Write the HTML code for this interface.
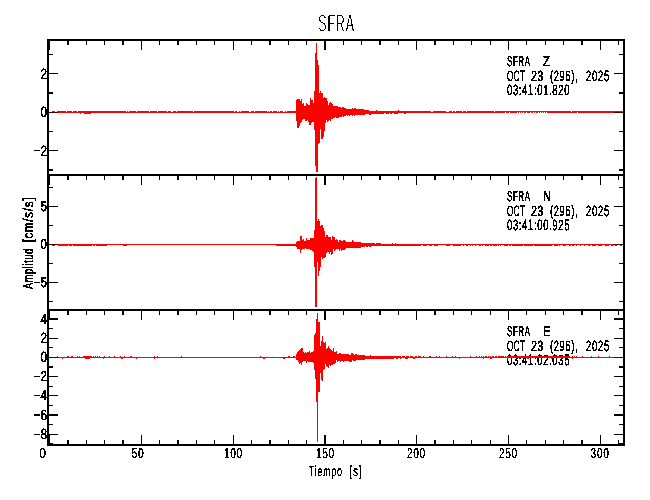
<!DOCTYPE html>
<html><head><meta charset="utf-8"><title>SFRA</title>
<style>html,body{margin:0;padding:0;background:#fff;}svg{display:block;}text{font-family:"Liberation Sans",sans-serif;}</style>
</head><body>
<svg width="650" height="500" viewBox="0 0 650 500" shape-rendering="crispEdges" text-rendering="geometricPrecision"><rect x="0" y="0" width="650" height="500" fill="#fff"/><defs><filter id="bw" x="0" y="0" width="650" height="500" filterUnits="userSpaceOnUse" color-interpolation-filters="sRGB"><feComponentTransfer><feFuncR type="discrete" tableValues="0"/><feFuncG type="discrete" tableValues="0"/><feFuncB type="discrete" tableValues="0"/><feFuncA type="discrete" tableValues="0 0 1 1"/></feComponentTransfer></filter><filter id="bw2" x="0" y="0" width="650" height="500" filterUnits="userSpaceOnUse" color-interpolation-filters="sRGB"><feComponentTransfer result="t"><feFuncR type="discrete" tableValues="0"/><feFuncG type="discrete" tableValues="0"/><feFuncB type="discrete" tableValues="0"/><feFuncA type="discrete" tableValues="0 0 1 1"/></feComponentTransfer><feOffset in="t" dy="1" result="o"/><feComposite in="t" in2="o" operator="in"/></filter></defs><g shape-rendering="auto" filter="url(#bw)"><text transform="translate(507,66) scale(0.5555,1)" font-family="Liberation Sans, sans-serif" font-size="14.4" font-weight="normal" textLength="41.40" lengthAdjust="spacing"  fill="#000" stroke="#000" stroke-width="0.5">SFRA</text><text transform="translate(543,66) scale(0.7800,1)" font-family="Liberation Sans, sans-serif" font-size="14.4" font-weight="normal"  fill="#000" stroke="#000" stroke-width="0.5">Z</text><text transform="translate(507,81) scale(0.5415,1)" font-family="Liberation Sans, sans-serif" font-size="14.8" font-weight="normal" textLength="33.24" lengthAdjust="spacing"  fill="#000" stroke="#000" stroke-width="0.5">OCT</text><text transform="translate(531,81) scale(0.7338,1)" font-family="Liberation Sans, sans-serif" font-size="14.8" font-weight="normal" textLength="16.76" lengthAdjust="spacing"  fill="#000" stroke="#000" stroke-width="0.5">23</text><text transform="translate(550,81) scale(0.6298,1)" font-family="Liberation Sans, sans-serif" font-size="14.8" font-weight="normal" textLength="43.66" lengthAdjust="spacing"  fill="#000" stroke="#000" stroke-width="0.5">(296),</text><text transform="translate(586,81) scale(0.6542,1)" font-family="Liberation Sans, sans-serif" font-size="14.8" font-weight="normal" textLength="35.92" lengthAdjust="spacing"  fill="#000" stroke="#000" stroke-width="0.5">2025</text><text transform="translate(507,95) scale(0.6416,1)" font-family="Liberation Sans, sans-serif" font-size="14.8" font-weight="normal" textLength="97.42" lengthAdjust="spacing"  fill="#000" stroke="#000" stroke-width="0.5">03:41:01.820</text><text transform="translate(507,201) scale(0.5555,1)" font-family="Liberation Sans, sans-serif" font-size="14.4" font-weight="normal" textLength="41.40" lengthAdjust="spacing"  fill="#000" stroke="#000" stroke-width="0.5">SFRA</text><text transform="translate(543,201) scale(0.7800,1)" font-family="Liberation Sans, sans-serif" font-size="14.4" font-weight="normal"  fill="#000" stroke="#000" stroke-width="0.5">N</text><text transform="translate(507,216) scale(0.5415,1)" font-family="Liberation Sans, sans-serif" font-size="14.8" font-weight="normal" textLength="33.24" lengthAdjust="spacing"  fill="#000" stroke="#000" stroke-width="0.5">OCT</text><text transform="translate(531,216) scale(0.7338,1)" font-family="Liberation Sans, sans-serif" font-size="14.8" font-weight="normal" textLength="16.76" lengthAdjust="spacing"  fill="#000" stroke="#000" stroke-width="0.5">23</text><text transform="translate(550,216) scale(0.6298,1)" font-family="Liberation Sans, sans-serif" font-size="14.8" font-weight="normal" textLength="43.66" lengthAdjust="spacing"  fill="#000" stroke="#000" stroke-width="0.5">(296),</text><text transform="translate(586,216) scale(0.6542,1)" font-family="Liberation Sans, sans-serif" font-size="14.8" font-weight="normal" textLength="35.92" lengthAdjust="spacing"  fill="#000" stroke="#000" stroke-width="0.5">2025</text><text transform="translate(507,230) scale(0.6416,1)" font-family="Liberation Sans, sans-serif" font-size="14.8" font-weight="normal" textLength="97.42" lengthAdjust="spacing"  fill="#000" stroke="#000" stroke-width="0.5">03:41:00.925</text><text transform="translate(507,336) scale(0.5555,1)" font-family="Liberation Sans, sans-serif" font-size="14.4" font-weight="normal" textLength="41.40" lengthAdjust="spacing"  fill="#000" stroke="#000" stroke-width="0.5">SFRA</text><text transform="translate(543,336) scale(0.7800,1)" font-family="Liberation Sans, sans-serif" font-size="14.4" font-weight="normal"  fill="#000" stroke="#000" stroke-width="0.5">E</text><text transform="translate(507,351) scale(0.5415,1)" font-family="Liberation Sans, sans-serif" font-size="14.8" font-weight="normal" textLength="33.24" lengthAdjust="spacing"  fill="#000" stroke="#000" stroke-width="0.5">OCT</text><text transform="translate(531,351) scale(0.7338,1)" font-family="Liberation Sans, sans-serif" font-size="14.8" font-weight="normal" textLength="16.76" lengthAdjust="spacing"  fill="#000" stroke="#000" stroke-width="0.5">23</text><text transform="translate(550,351) scale(0.6298,1)" font-family="Liberation Sans, sans-serif" font-size="14.8" font-weight="normal" textLength="43.66" lengthAdjust="spacing"  fill="#000" stroke="#000" stroke-width="0.5">(296),</text><text transform="translate(586,351) scale(0.6542,1)" font-family="Liberation Sans, sans-serif" font-size="14.8" font-weight="normal" textLength="35.92" lengthAdjust="spacing"  fill="#000" stroke="#000" stroke-width="0.5">2025</text><text transform="translate(507,365) scale(0.6416,1)" font-family="Liberation Sans, sans-serif" font-size="14.8" font-weight="normal" textLength="97.42" lengthAdjust="spacing"  fill="#000" stroke="#000" stroke-width="0.5">03:41:02.035</text></g><path d="M52 111h3v2h-3zM55 112h2v1h-2zM57 111h9v2h-9zM66 112h1v1h-1zM67 111h5v2h-5zM72 112h1v1h-1zM73 111h4v2h-4zM77 112h1v1h-1zM78 111h2v2h-2zM80 111h1v3h-1zM81 111h3v2h-3zM84 111h7v3h-7zM91 111h35v2h-35zM126 112h1v1h-1zM127 111h1v2h-1zM128 112h1v1h-1zM129 111h7v2h-7zM136 112h1v1h-1zM137 111h12v2h-12zM149 112h1v1h-1zM150 111h7v2h-7zM157 112h1v1h-1zM158 111h9v2h-9zM167 112h1v1h-1zM168 111h3v2h-3zM171 112h2v1h-2zM173 111h3v2h-3zM176 112h1v1h-1zM177 111h16v2h-16zM193 112h1v1h-1zM194 111h40v2h-40zM234 112h1v1h-1zM235 111h2v2h-2zM237 112h2v1h-2zM239 111h1v2h-1zM240 112h1v1h-1zM241 111h8v2h-8zM249 112h2v1h-2zM251 111h3v2h-3zM254 112h1v1h-1zM255 111h12v2h-12zM267 112h1v1h-1zM268 111h1v2h-1zM269 112h1v1h-1zM270 111h2v2h-2zM272 112h1v1h-1zM273 111h4v2h-4zM277 112h1v1h-1zM278 111h1v2h-1zM279 112h1v1h-1zM280 111h3v2h-3zM283 112h2v1h-2zM285 111h1v2h-1zM286 112h1v1h-1zM287 111h9v2h-9zM296 100h1v21h-1zM297 99h2v29h-2zM299 99h1v27h-1zM300 101h1v22h-1zM301 99h1v23h-1zM302 104h1v16h-1zM303 103h1v16h-1zM304 106h1v13h-1zM305 106h1v15h-1zM306 103h1v18h-1zM307 104h1v16h-1zM308 105h1v17h-1zM309 105h1v20h-1zM310 98h1v27h-1zM311 100h1v23h-1zM312 100h1v22h-1zM313 103h1v19h-1zM314 91h1v39h-1zM315 53h1v113h-1zM316 43h1v129h-1zM317 60h1v112h-1zM318 65h1v79h-1zM319 93h1v50h-1zM320 91h1v38h-1zM321 93h2v46h-2zM323 98h1v39h-1zM324 97h1v34h-1zM325 98h1v25h-1zM326 98h1v22h-1zM327 101h1v21h-1zM328 105h1v16h-1zM329 103h1v17h-1zM330 102h1v19h-1zM331 103h1v16h-1zM332 104h1v15h-1zM333 106h2v12h-2zM335 106h1v11h-1zM336 106h2v12h-2zM338 107h1v11h-1zM339 107h2v10h-2zM341 108h1v9h-1zM342 107h1v9h-1zM343 107h1v10h-1zM344 108h2v8h-2zM346 109h1v6h-1zM347 109h1v7h-1zM348 109h1v6h-1zM349 109h1v7h-1zM350 109h2v6h-2zM352 108h1v8h-1zM353 109h1v6h-1zM354 108h1v8h-1zM355 108h1v7h-1zM356 109h8v6h-8zM364 110h1v5h-1zM365 110h4v4h-4zM369 111h2v4h-2zM371 111h5v3h-5zM376 110h1v4h-1zM377 111h7v3h-7zM384 111h2v2h-2zM386 111h3v3h-3zM389 111h1v2h-1zM390 111h2v3h-2zM392 111h2v2h-2zM394 111h4v3h-4zM398 110h1v3h-1zM399 111h5v2h-5zM404 111h2v3h-2zM406 111h25v2h-25zM431 112h2v1h-2zM433 111h13v2h-13zM446 112h3v1h-3zM449 111h3v2h-3zM452 112h1v1h-1zM453 111h2v2h-2zM455 112h1v1h-1zM456 111h6v2h-6zM462 112h1v1h-1zM463 111h3v2h-3zM466 112h1v1h-1zM467 111h27v2h-27zM494 112h1v1h-1zM495 111h10v2h-10zM505 111h1v1h-1zM506 111h3v2h-3zM509 111h1v1h-1zM510 111h7v2h-7zM517 111h1v1h-1zM518 111h1v2h-1zM519 111h1v1h-1zM520 111h1v2h-1zM521 111h1v1h-1zM522 111h1v2h-1zM523 111h1v1h-1zM524 111h2v2h-2zM526 111h1v1h-1zM527 111h3v2h-3zM530 111h1v1h-1zM531 111h2v2h-2zM533 111h1v1h-1zM534 111h1v2h-1zM535 111h1v1h-1zM536 111h2v2h-2zM538 111h1v1h-1zM539 111h1v2h-1zM540 111h1v1h-1zM541 111h1v2h-1zM542 111h1v1h-1zM543 111h1v2h-1zM544 111h1v1h-1zM545 111h1v2h-1zM546 111h1v1h-1zM547 111h24v2h-24zM571 112h1v1h-1zM572 111h5v2h-5zM577 111h1v1h-1zM578 111h45v2h-45z" fill="#ff0000"/><path d="M52 244h3v2h-3zM55 244h3v1h-3zM58 244h10v2h-10zM68 244h1v1h-1zM69 244h3v2h-3zM72 244h1v1h-1zM73 244h19v2h-19zM92 244h1v1h-1zM93 244h2v2h-2zM95 244h1v1h-1zM96 244h11v2h-11zM107 244h16v1h-16zM123 244h4v2h-4zM127 244h149v1h-149zM276 244h20v2h-20zM296 242h1v5h-1zM297 241h3v8h-3zM300 236h1v17h-1zM301 236h1v14h-1zM302 240h1v9h-1zM303 239h1v10h-1zM304 241h1v8h-1zM305 241h1v7h-1zM306 238h1v11h-1zM307 240h3v9h-3zM310 238h2v12h-2zM312 238h1v13h-1zM313 238h1v14h-1zM314 230h1v37h-1zM315 178h1v129h-1zM316 177h1v130h-1zM317 221h1v41h-1zM318 219h1v57h-1zM319 221h1v50h-1zM320 226h1v41h-1zM321 225h1v32h-1zM322 225h1v34h-1zM323 228h1v30h-1zM324 231h1v27h-1zM325 237h1v20h-1zM326 235h1v18h-1zM327 235h1v17h-1zM328 237h1v15h-1zM329 237h1v17h-1zM330 237h1v15h-1zM331 240h1v15h-1zM332 236h1v18h-1zM333 237h1v12h-1zM334 237h1v14h-1zM335 240h1v10h-1zM336 239h1v10h-1zM337 240h1v9h-1zM338 242h1v7h-1zM339 240h1v11h-1zM340 240h1v9h-1zM341 241h1v10h-1zM342 241h1v9h-1zM343 240h2v10h-2zM345 241h1v8h-1zM346 242h6v6h-6zM352 240h1v8h-1zM353 241h1v7h-1zM354 242h7v6h-7zM361 243h4v4h-4zM365 243h1v3h-1zM366 243h2v4h-2zM368 243h1v3h-1zM369 243h2v4h-2zM371 243h4v3h-4zM375 244h1v2h-1zM376 243h5v3h-5zM381 244h11v2h-11zM392 243h1v3h-1zM393 244h2v2h-2zM395 243h1v3h-1zM396 244h25v2h-25zM421 244h2v1h-2zM423 244h4v2h-4zM427 244h2v1h-2zM429 244h3v2h-3zM432 244h2v1h-2zM434 244h4v2h-4zM438 244h8v1h-8zM446 244h4v2h-4zM450 244h3v1h-3zM453 244h8v2h-8zM461 244h2v1h-2zM463 244h1v2h-1zM464 244h2v1h-2zM466 244h2v2h-2zM468 244h2v1h-2zM470 244h1v2h-1zM471 244h1v1h-1zM472 244h1v2h-1zM473 244h2v1h-2zM475 244h1v2h-1zM476 244h3v1h-3zM479 244h2v2h-2zM481 244h1v1h-1zM482 244h1v2h-1zM483 244h2v1h-2zM485 244h4v2h-4zM489 244h1v1h-1zM490 244h2v2h-2zM492 244h1v1h-1zM493 244h4v2h-4zM497 244h1v1h-1zM498 244h1v2h-1zM499 244h1v1h-1zM500 244h1v2h-1zM501 244h3v1h-3zM504 244h4v2h-4zM508 244h1v1h-1zM509 244h2v2h-2zM511 244h1v1h-1zM512 244h11v2h-11zM523 244h1v1h-1zM524 244h9v2h-9zM533 244h1v1h-1zM534 244h18v2h-18zM552 244h2v1h-2zM554 244h4v2h-4zM558 244h1v1h-1zM559 244h1v2h-1zM560 244h3v1h-3zM563 244h3v2h-3zM566 244h3v1h-3zM569 244h2v2h-2zM571 244h1v1h-1zM572 244h2v2h-2zM574 244h2v1h-2zM576 244h1v2h-1zM577 244h3v1h-3zM580 244h1v2h-1zM581 244h3v1h-3zM584 244h1v2h-1zM585 244h3v1h-3zM588 244h2v2h-2zM590 244h2v1h-2zM592 244h4v2h-4zM596 244h2v1h-2zM598 244h4v2h-4zM602 244h3v1h-3zM605 244h4v2h-4zM609 244h2v1h-2zM611 244h3v2h-3zM614 244h1v1h-1zM615 244h2v2h-2zM617 244h3v1h-3zM620 244h2v2h-2zM622 244h1v1h-1z" fill="#ff0000"/><path d="M52 357h5v1h-5zM57 356h1v2h-1zM58 357h4v1h-4zM62 357h1v2h-1zM63 357h4v1h-4zM67 356h2v2h-2zM69 357h2v1h-2zM71 356h2v2h-2zM73 357h4v1h-4zM77 356h1v2h-1zM78 357h1v1h-1zM79 356h1v2h-1zM80 357h3v1h-3zM83 356h2v2h-2zM85 356h5v3h-5zM90 356h2v2h-2zM92 357h1v1h-1zM93 356h1v2h-1zM94 357h1v1h-1zM95 356h1v2h-1zM96 357h1v1h-1zM97 356h1v2h-1zM98 357h1v1h-1zM99 356h1v2h-1zM100 357h3v1h-3zM103 357h1v2h-1zM104 356h1v2h-1zM105 357h4v1h-4zM109 356h1v2h-1zM110 357h4v1h-4zM114 356h1v2h-1zM115 357h5v1h-5zM120 356h1v2h-1zM121 357h2v2h-2zM123 357h1v1h-1zM124 356h1v2h-1zM125 357h5v1h-5zM130 356h2v2h-2zM132 357h4v1h-4zM136 357h1v2h-1zM137 357h17v1h-17zM154 356h1v3h-1zM155 357h2v1h-2zM157 356h1v2h-1zM158 357h23v1h-23zM181 356h1v2h-1zM182 357h78v1h-78zM260 356h1v2h-1zM261 357h2v1h-2zM263 357h2v2h-2zM265 357h18v1h-18zM283 357h2v2h-2zM285 357h3v1h-3zM288 356h2v2h-2zM290 357h3v1h-3zM293 356h2v2h-2zM295 357h1v1h-1zM296 354h1v6h-1zM297 352h1v8h-1zM298 351h1v11h-1zM299 350h1v14h-1zM300 349h1v14h-1zM301 348h1v17h-1zM302 348h1v14h-1zM303 352h1v9h-1zM304 353h1v8h-1zM305 352h1v9h-1zM306 353h1v10h-1zM307 352h1v9h-1zM308 352h1v10h-1zM309 351h1v11h-1zM310 353h1v9h-1zM311 352h2v10h-2zM313 351h1v12h-1zM314 335h1v35h-1zM315 333h1v46h-1zM316 319h1v83h-1zM317 313h1v129h-1zM318 322h2v70h-2zM320 346h1v27h-1zM321 341h1v39h-1zM322 336h1v45h-1zM323 342h1v28h-1zM324 343h1v26h-1zM325 342h1v22h-1zM326 349h1v17h-1zM327 348h1v19h-1zM328 346h1v22h-1zM329 348h1v17h-1zM330 349h1v17h-1zM331 350h1v15h-1zM332 351h1v14h-1zM333 348h1v16h-1zM334 352h1v12h-1zM335 352h1v11h-1zM336 351h1v9h-1zM337 354h1v8h-1zM338 354h1v7h-1zM339 353h1v8h-1zM340 353h1v9h-1zM341 354h2v7h-2zM343 354h1v8h-1zM344 354h5v7h-5zM349 355h2v7h-2zM351 353h1v9h-1zM352 353h1v7h-1zM353 354h1v7h-1zM354 355h1v6h-1zM355 354h1v7h-1zM356 354h1v6h-1zM357 355h8v5h-8zM365 356h5v3h-5zM370 355h1v4h-1zM371 356h23v3h-23zM394 356h2v2h-2zM396 356h2v3h-2zM398 356h2v2h-2zM400 356h1v3h-1zM401 357h1v1h-1zM402 356h3v2h-3zM405 357h1v2h-1zM406 356h2v3h-2zM408 356h1v2h-1zM409 357h1v1h-1zM410 356h3v2h-3zM413 357h2v2h-2zM415 356h2v2h-2zM417 357h1v1h-1zM418 356h3v2h-3zM421 357h2v1h-2zM423 356h1v2h-1zM424 357h5v1h-5zM429 356h2v2h-2zM431 357h5v1h-5zM436 356h1v2h-1zM437 357h2v1h-2zM439 356h1v2h-1zM440 357h6v1h-6zM446 356h1v2h-1zM447 357h5v1h-5zM452 356h1v2h-1zM453 357h2v1h-2zM455 356h1v2h-1zM456 357h3v1h-3zM459 357h1v2h-1zM460 357h10v1h-10zM470 356h1v2h-1zM471 357h5v1h-5zM476 356h1v2h-1zM477 357h2v1h-2zM479 356h1v2h-1zM480 357h1v1h-1zM481 356h1v2h-1zM482 357h1v1h-1zM483 356h1v3h-1zM484 357h1v1h-1zM485 356h2v2h-2zM487 357h1v1h-1zM488 356h1v2h-1zM489 357h1v1h-1zM490 356h1v3h-1zM491 357h1v2h-1zM492 356h2v2h-2zM494 357h1v1h-1zM495 356h2v2h-2zM497 357h1v1h-1zM498 356h6v2h-6zM504 357h1v1h-1zM505 356h1v2h-1zM506 357h1v1h-1zM507 356h1v3h-1zM508 356h19v2h-19zM527 356h2v3h-2zM529 356h22v2h-22zM551 356h1v3h-1zM552 356h18v2h-18zM570 357h2v1h-2zM572 356h1v3h-1zM573 357h1v1h-1zM574 356h1v2h-1zM575 357h1v1h-1zM576 356h1v2h-1zM577 357h5v1h-5zM582 356h1v2h-1zM583 357h8v1h-8zM591 356h1v2h-1zM592 357h6v1h-6zM598 356h1v2h-1zM599 357h10v1h-10zM609 356h1v2h-1zM610 357h13v1h-13z" fill="#ff0000"/><rect x="47" y="39" width="2" height="407" fill="#000"/><rect x="623" y="39" width="2" height="407" fill="#000"/><rect x="47" y="39" width="578" height="2" fill="#000"/><rect x="47" y="444" width="578" height="2" fill="#000"/><rect x="47" y="174" width="578" height="2" fill="#000"/><rect x="47" y="309" width="578" height="2" fill="#000"/><rect x="49" y="41" width="1" height="9" fill="#000"/><rect x="49" y="176" width="1" height="9" fill="#000"/><rect x="49" y="311" width="1" height="9" fill="#000"/><rect x="49" y="434" width="1" height="10" fill="#000"/><rect x="67" y="41" width="2" height="4" fill="#000"/><rect x="67" y="176" width="2" height="4" fill="#000"/><rect x="67" y="311" width="2" height="4" fill="#000"/><rect x="67" y="440" width="2" height="4" fill="#000"/><rect x="86" y="41" width="1" height="4" fill="#000"/><rect x="86" y="176" width="1" height="4" fill="#000"/><rect x="86" y="311" width="1" height="4" fill="#000"/><rect x="86" y="440" width="1" height="4" fill="#000"/><rect x="104" y="41" width="1" height="4" fill="#000"/><rect x="104" y="176" width="1" height="4" fill="#000"/><rect x="104" y="311" width="1" height="4" fill="#000"/><rect x="104" y="440" width="1" height="4" fill="#000"/><rect x="122" y="41" width="2" height="4" fill="#000"/><rect x="122" y="176" width="2" height="4" fill="#000"/><rect x="122" y="311" width="2" height="4" fill="#000"/><rect x="122" y="440" width="2" height="4" fill="#000"/><rect x="141" y="41" width="1" height="9" fill="#000"/><rect x="141" y="176" width="1" height="9" fill="#000"/><rect x="141" y="311" width="1" height="9" fill="#000"/><rect x="141" y="435" width="1" height="9" fill="#000"/><rect x="159" y="41" width="1" height="4" fill="#000"/><rect x="159" y="176" width="1" height="4" fill="#000"/><rect x="159" y="311" width="1" height="4" fill="#000"/><rect x="159" y="440" width="1" height="4" fill="#000"/><rect x="177" y="41" width="2" height="4" fill="#000"/><rect x="177" y="176" width="2" height="4" fill="#000"/><rect x="177" y="311" width="2" height="4" fill="#000"/><rect x="177" y="440" width="2" height="4" fill="#000"/><rect x="196" y="41" width="1" height="4" fill="#000"/><rect x="196" y="176" width="1" height="4" fill="#000"/><rect x="196" y="311" width="1" height="4" fill="#000"/><rect x="196" y="440" width="1" height="4" fill="#000"/><rect x="214" y="41" width="1" height="4" fill="#000"/><rect x="214" y="176" width="1" height="4" fill="#000"/><rect x="214" y="311" width="1" height="4" fill="#000"/><rect x="214" y="440" width="1" height="4" fill="#000"/><rect x="233" y="41" width="1" height="9" fill="#000"/><rect x="233" y="176" width="1" height="9" fill="#000"/><rect x="233" y="311" width="1" height="9" fill="#000"/><rect x="233" y="435" width="1" height="9" fill="#000"/><rect x="251" y="41" width="1" height="4" fill="#000"/><rect x="251" y="176" width="1" height="4" fill="#000"/><rect x="251" y="311" width="1" height="4" fill="#000"/><rect x="251" y="440" width="1" height="4" fill="#000"/><rect x="269" y="41" width="2" height="4" fill="#000"/><rect x="269" y="176" width="2" height="4" fill="#000"/><rect x="269" y="311" width="2" height="4" fill="#000"/><rect x="269" y="440" width="2" height="4" fill="#000"/><rect x="288" y="41" width="1" height="4" fill="#000"/><rect x="288" y="176" width="1" height="4" fill="#000"/><rect x="288" y="311" width="1" height="4" fill="#000"/><rect x="288" y="440" width="1" height="4" fill="#000"/><rect x="306" y="41" width="1" height="4" fill="#000"/><rect x="306" y="176" width="1" height="4" fill="#000"/><rect x="306" y="311" width="1" height="4" fill="#000"/><rect x="306" y="440" width="1" height="4" fill="#000"/><rect x="324" y="41" width="2" height="9" fill="#000"/><rect x="324" y="176" width="2" height="9" fill="#000"/><rect x="324" y="311" width="2" height="9" fill="#000"/><rect x="324" y="435" width="2" height="9" fill="#000"/><rect x="343" y="41" width="1" height="4" fill="#000"/><rect x="343" y="176" width="1" height="4" fill="#000"/><rect x="343" y="311" width="1" height="4" fill="#000"/><rect x="343" y="440" width="1" height="4" fill="#000"/><rect x="361" y="41" width="1" height="4" fill="#000"/><rect x="361" y="176" width="1" height="4" fill="#000"/><rect x="361" y="311" width="1" height="4" fill="#000"/><rect x="361" y="440" width="1" height="4" fill="#000"/><rect x="379" y="41" width="2" height="4" fill="#000"/><rect x="379" y="176" width="2" height="4" fill="#000"/><rect x="379" y="311" width="2" height="4" fill="#000"/><rect x="379" y="440" width="2" height="4" fill="#000"/><rect x="398" y="41" width="1" height="4" fill="#000"/><rect x="398" y="176" width="1" height="4" fill="#000"/><rect x="398" y="311" width="1" height="4" fill="#000"/><rect x="398" y="440" width="1" height="4" fill="#000"/><rect x="416" y="41" width="1" height="9" fill="#000"/><rect x="416" y="176" width="1" height="9" fill="#000"/><rect x="416" y="311" width="1" height="9" fill="#000"/><rect x="416" y="435" width="1" height="9" fill="#000"/><rect x="434" y="41" width="2" height="4" fill="#000"/><rect x="434" y="176" width="2" height="4" fill="#000"/><rect x="434" y="311" width="2" height="4" fill="#000"/><rect x="434" y="440" width="2" height="4" fill="#000"/><rect x="453" y="41" width="1" height="4" fill="#000"/><rect x="453" y="176" width="1" height="4" fill="#000"/><rect x="453" y="311" width="1" height="4" fill="#000"/><rect x="453" y="440" width="1" height="4" fill="#000"/><rect x="471" y="41" width="1" height="4" fill="#000"/><rect x="471" y="176" width="1" height="4" fill="#000"/><rect x="471" y="311" width="1" height="4" fill="#000"/><rect x="471" y="440" width="1" height="4" fill="#000"/><rect x="490" y="41" width="1" height="4" fill="#000"/><rect x="490" y="176" width="1" height="4" fill="#000"/><rect x="490" y="311" width="1" height="4" fill="#000"/><rect x="490" y="440" width="1" height="4" fill="#000"/><rect x="508" y="41" width="1" height="9" fill="#000"/><rect x="508" y="176" width="1" height="9" fill="#000"/><rect x="508" y="311" width="1" height="9" fill="#000"/><rect x="508" y="435" width="1" height="9" fill="#000"/><rect x="526" y="41" width="1" height="4" fill="#000"/><rect x="526" y="176" width="1" height="4" fill="#000"/><rect x="526" y="311" width="1" height="4" fill="#000"/><rect x="526" y="440" width="1" height="4" fill="#000"/><rect x="545" y="41" width="1" height="4" fill="#000"/><rect x="545" y="176" width="1" height="4" fill="#000"/><rect x="545" y="311" width="1" height="4" fill="#000"/><rect x="545" y="440" width="1" height="4" fill="#000"/><rect x="563" y="41" width="1" height="4" fill="#000"/><rect x="563" y="176" width="1" height="4" fill="#000"/><rect x="563" y="311" width="1" height="4" fill="#000"/><rect x="563" y="440" width="1" height="4" fill="#000"/><rect x="581" y="41" width="2" height="4" fill="#000"/><rect x="581" y="176" width="2" height="4" fill="#000"/><rect x="581" y="311" width="2" height="4" fill="#000"/><rect x="581" y="440" width="2" height="4" fill="#000"/><rect x="600" y="41" width="1" height="9" fill="#000"/><rect x="600" y="176" width="1" height="9" fill="#000"/><rect x="600" y="311" width="1" height="9" fill="#000"/><rect x="600" y="435" width="1" height="9" fill="#000"/><rect x="618" y="41" width="1" height="4" fill="#000"/><rect x="618" y="176" width="1" height="4" fill="#000"/><rect x="618" y="311" width="1" height="4" fill="#000"/><rect x="618" y="440" width="1" height="4" fill="#000"/><rect x="49" y="54" width="4" height="1" fill="#000"/><rect x="619" y="54" width="4" height="1" fill="#000"/><rect x="49" y="73" width="9" height="1" fill="#000"/><rect x="614" y="73" width="9" height="1" fill="#000"/><rect x="49" y="92" width="4" height="2" fill="#000"/><rect x="619" y="92" width="4" height="2" fill="#000"/><rect x="49" y="112" width="1" height="1" fill="#000"/><rect x="50" y="112" width="8" height="1" fill="#480000"/><rect x="614" y="112" width="9" height="1" fill="#480000"/><rect x="49" y="131" width="4" height="1" fill="#000"/><rect x="619" y="131" width="4" height="1" fill="#000"/><rect x="49" y="150" width="9" height="1" fill="#000"/><rect x="614" y="150" width="9" height="1" fill="#000"/><rect x="49" y="169" width="4" height="2" fill="#000"/><rect x="619" y="169" width="4" height="2" fill="#000"/><rect x="49" y="187" width="4" height="1" fill="#000"/><rect x="619" y="187" width="4" height="1" fill="#000"/><rect x="49" y="206" width="9" height="1" fill="#000"/><rect x="614" y="206" width="9" height="1" fill="#000"/><rect x="49" y="225" width="4" height="1" fill="#000"/><rect x="619" y="225" width="4" height="1" fill="#000"/><rect x="49" y="244" width="1" height="1" fill="#000"/><rect x="50" y="244" width="8" height="1" fill="#480000"/><rect x="614" y="244" width="9" height="1" fill="#480000"/><rect x="49" y="263" width="4" height="1" fill="#000"/><rect x="619" y="263" width="4" height="1" fill="#000"/><rect x="49" y="282" width="9" height="1" fill="#000"/><rect x="614" y="282" width="9" height="1" fill="#000"/><rect x="49" y="301" width="4" height="1" fill="#000"/><rect x="619" y="301" width="4" height="1" fill="#000"/><rect x="49" y="318" width="9" height="2" fill="#000"/><rect x="614" y="318" width="9" height="2" fill="#000"/><rect x="49" y="328" width="4" height="1" fill="#000"/><rect x="619" y="328" width="4" height="1" fill="#000"/><rect x="49" y="338" width="9" height="1" fill="#000"/><rect x="614" y="338" width="9" height="1" fill="#000"/><rect x="49" y="347" width="4" height="1" fill="#000"/><rect x="619" y="347" width="4" height="1" fill="#000"/><rect x="49" y="357" width="1" height="1" fill="#000"/><rect x="50" y="357" width="8" height="1" fill="#480000"/><rect x="614" y="357" width="9" height="1" fill="#480000"/><rect x="49" y="366" width="4" height="2" fill="#000"/><rect x="619" y="366" width="4" height="2" fill="#000"/><rect x="49" y="376" width="9" height="1" fill="#000"/><rect x="614" y="376" width="9" height="1" fill="#000"/><rect x="49" y="386" width="4" height="1" fill="#000"/><rect x="619" y="386" width="4" height="1" fill="#000"/><rect x="49" y="395" width="9" height="1" fill="#000"/><rect x="614" y="395" width="9" height="1" fill="#000"/><rect x="49" y="405" width="4" height="1" fill="#000"/><rect x="619" y="405" width="4" height="1" fill="#000"/><rect x="49" y="414" width="9" height="2" fill="#000"/><rect x="614" y="414" width="9" height="2" fill="#000"/><rect x="49" y="424" width="4" height="1" fill="#000"/><rect x="619" y="424" width="4" height="1" fill="#000"/><rect x="49" y="434" width="9" height="1" fill="#000"/><rect x="614" y="434" width="9" height="1" fill="#000"/><rect x="49" y="443" width="4" height="1" fill="#000"/><rect x="619" y="443" width="4" height="1" fill="#000"/><g shape-rendering="auto" filter="url(#bw2)"><text transform="translate(318.3,30.8) scale(0.5109,1)" font-family="Liberation Sans, sans-serif" font-size="24.4" textLength="69.87" lengthAdjust="spacing" fill="#000" stroke="#000" stroke-width="0.2">SFRA</text></g><g shape-rendering="auto" filter="url(#bw)"><text transform="translate(40.5,79) scale(0.8000,1)" font-family="Liberation Sans, sans-serif" font-size="14.8" font-weight="normal"  fill="#000" stroke="#000" stroke-width="0.5">2</text><text transform="translate(40.5,117) scale(0.8000,1)" font-family="Liberation Sans, sans-serif" font-size="14.8" font-weight="normal"  fill="#000" stroke="#000" stroke-width="0.5">0</text><rect x="34" y="150" width="6" height="1" fill="#000"/><text transform="translate(40.5,156) scale(0.8000,1)" font-family="Liberation Sans, sans-serif" font-size="14.8" font-weight="normal"  fill="#000" stroke="#000" stroke-width="0.5">2</text><text transform="translate(40.5,211) scale(0.8000,1)" font-family="Liberation Sans, sans-serif" font-size="14.4" font-weight="normal"  fill="#000" stroke="#000" stroke-width="0.5">5</text><text transform="translate(40.5,249) scale(0.8000,1)" font-family="Liberation Sans, sans-serif" font-size="14.4" font-weight="normal"  fill="#000" stroke="#000" stroke-width="0.5">0</text><rect x="34" y="282" width="6" height="1" fill="#000"/><text transform="translate(40.5,287) scale(0.8000,1)" font-family="Liberation Sans, sans-serif" font-size="14.4" font-weight="normal"  fill="#000" stroke="#000" stroke-width="0.5">5</text><text transform="translate(40.5,324) scale(0.8000,1)" font-family="Liberation Sans, sans-serif" font-size="14.8" font-weight="normal"  fill="#000" stroke="#000" stroke-width="0.5">4</text><text transform="translate(40.5,343) scale(0.8000,1)" font-family="Liberation Sans, sans-serif" font-size="14.8" font-weight="normal"  fill="#000" stroke="#000" stroke-width="0.5">2</text><text transform="translate(40.5,362) scale(0.8000,1)" font-family="Liberation Sans, sans-serif" font-size="14.8" font-weight="normal"  fill="#000" stroke="#000" stroke-width="0.5">0</text><rect x="34" y="376" width="6" height="1" fill="#000"/><text transform="translate(40.5,381) scale(0.8000,1)" font-family="Liberation Sans, sans-serif" font-size="14.4" font-weight="normal"  fill="#000" stroke="#000" stroke-width="0.5">2</text><rect x="34" y="395" width="6" height="1" fill="#000"/><text transform="translate(40.5,400) scale(0.8000,1)" font-family="Liberation Sans, sans-serif" font-size="14.4" font-weight="normal"  fill="#000" stroke="#000" stroke-width="0.5">4</text><rect x="34" y="414" width="6" height="2" fill="#000"/><text transform="translate(40.5,420) scale(0.8000,1)" font-family="Liberation Sans, sans-serif" font-size="14.8" font-weight="normal"  fill="#000" stroke="#000" stroke-width="0.5">6</text><rect x="34" y="434" width="6" height="1" fill="#000"/><text transform="translate(40.5,439) scale(0.8000,1)" font-family="Liberation Sans, sans-serif" font-size="14.8" font-weight="normal"  fill="#000" stroke="#000" stroke-width="0.5">8</text><text transform="translate(39.4,458) scale(0.8000,1)" font-family="Liberation Sans, sans-serif" font-size="14.4" font-weight="normal"  fill="#000" stroke="#000" stroke-width="0.38">0</text><text transform="translate(131.4,458) scale(0.7228,1)" font-family="Liberation Sans, sans-serif" font-size="14.4" font-weight="normal" textLength="17.02" lengthAdjust="spacing"  fill="#000" stroke="#000" stroke-width="0.38">50</text><text transform="translate(223.9,458) scale(0.7031,1)" font-family="Liberation Sans, sans-serif" font-size="14.4" font-weight="normal" textLength="26.03" lengthAdjust="spacing"  fill="#000" stroke="#000" stroke-width="0.38">100</text><text transform="translate(315.90000000000003,458) scale(0.7031,1)" font-family="Liberation Sans, sans-serif" font-size="14.4" font-weight="normal" textLength="26.03" lengthAdjust="spacing"  fill="#000" stroke="#000" stroke-width="0.38">150</text><text transform="translate(406.90000000000003,458) scale(0.7031,1)" font-family="Liberation Sans, sans-serif" font-size="14.4" font-weight="normal" textLength="26.03" lengthAdjust="spacing"  fill="#000" stroke="#000" stroke-width="0.38">200</text><text transform="translate(498.90000000000003,458) scale(0.7031,1)" font-family="Liberation Sans, sans-serif" font-size="14.4" font-weight="normal" textLength="26.03" lengthAdjust="spacing"  fill="#000" stroke="#000" stroke-width="0.38">250</text><text transform="translate(590.6,458) scale(0.7031,1)" font-family="Liberation Sans, sans-serif" font-size="14.4" font-weight="normal" textLength="26.03" lengthAdjust="spacing"  fill="#000" stroke="#000" stroke-width="0.38">300</text><text transform="translate(308.6,476) scale(0.6338,1)" font-family="Liberation Sans, sans-serif" font-size="14.4" font-weight="normal" textLength="53.02" lengthAdjust="spacing"  fill="#000" stroke="#000" stroke-width="0.3">Tiempo</text><text transform="translate(349.6,476) scale(0.6976,1)" font-family="Liberation Sans, sans-serif" font-size="14.4" font-weight="normal" textLength="17.20" lengthAdjust="spacing"  fill="#000" stroke="#000" stroke-width="0.3">[s]</text><g transform="translate(33,289) rotate(-90)"><text transform="translate(0,0) scale(0.6347,1)" font-family="Liberation Sans, sans-serif" font-size="14.4" font-weight="normal" textLength="63.02" lengthAdjust="spacing"  fill="#000" stroke="#000" stroke-width="0.5">Amplitud</text><text transform="translate(46.5,0) scale(0.7951,1)" font-family="Liberation Sans, sans-serif" font-size="14.4" font-weight="normal" textLength="56.60" lengthAdjust="spacing"  fill="#000" stroke="#000" stroke-width="0.5">[cm/s/s]</text></g></g></svg>
</body></html>
